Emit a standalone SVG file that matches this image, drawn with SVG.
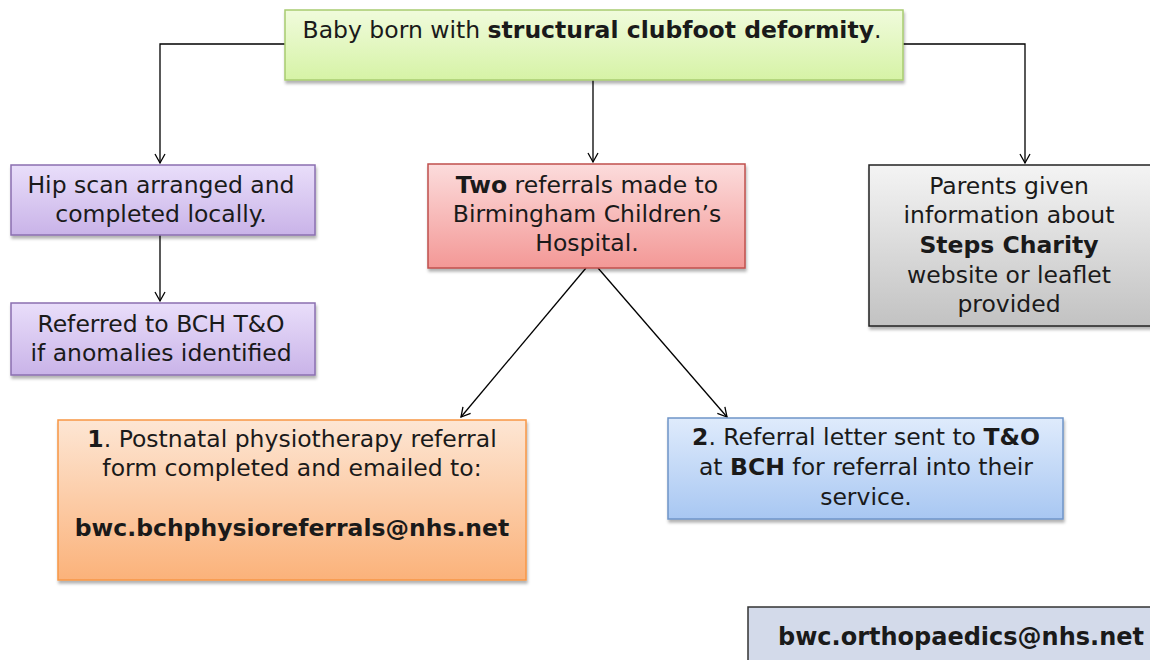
<svg xmlns="http://www.w3.org/2000/svg" width="1150" height="660" viewBox="0 0 1150 660">
<defs>
<linearGradient id="gGreen" x1="0" y1="0" x2="0" y2="1"><stop offset="0" stop-color="#f0fbdc"/><stop offset="1" stop-color="#d6f3a6"/></linearGradient>
<linearGradient id="gPurple" x1="0" y1="0" x2="0" y2="1"><stop offset="0" stop-color="#e9defa"/><stop offset="1" stop-color="#c9b3e8"/></linearGradient>
<linearGradient id="gRed" x1="0" y1="0" x2="0" y2="1"><stop offset="0" stop-color="#fcdcdc"/><stop offset="1" stop-color="#f39896"/></linearGradient>
<linearGradient id="gGrey" x1="0" y1="0" x2="0" y2="1"><stop offset="0" stop-color="#f4f4f4"/><stop offset="1" stop-color="#c2c2c2"/></linearGradient>
<linearGradient id="gOrange" x1="0" y1="0" x2="0" y2="1"><stop offset="0" stop-color="#fde6d4"/><stop offset="1" stop-color="#fbb27a"/></linearGradient>
<linearGradient id="gBlue" x1="0" y1="0" x2="0" y2="1"><stop offset="0" stop-color="#dfebfc"/><stop offset="1" stop-color="#a8c7f2"/></linearGradient>
<filter id="sh" x="-5%" y="-5%" width="110%" height="120%"><feDropShadow dx="1" dy="3" stdDeviation="1.5" flood-color="#000" flood-opacity="0.3"/></filter>
<marker id="arr" markerWidth="12" markerHeight="12" refX="10" refY="6" orient="auto" markerUnits="userSpaceOnUse"><path d="M1,1 L10,6 L1,11" fill="none" stroke="#000" stroke-width="1.3"/></marker>
<style>
text{font-family:"DejaVu Sans","Noto Sans",sans-serif;font-size:23.5px;fill:#1a1a1a;text-anchor:middle}
.b{font-weight:bold}
.box{filter:url(#sh);stroke-width:1.5}
.con{fill:none;stroke:#000;stroke-width:1.3}
</style>
</defs>
<g id="connectors">
<path class="con" d="M285,44 H160 V163" marker-end="url(#arr)"/>
<path class="con" d="M903,44 H1025 V163" marker-end="url(#arr)"/>
<path class="con" d="M593,80 V162" marker-end="url(#arr)"/>
<path class="con" d="M160,235 V301" marker-end="url(#arr)"/>
<path class="con" d="M586,268 L461,417" marker-end="url(#arr)"/>
<path class="con" d="M598,268 L727,417" marker-end="url(#arr)"/>
</g>
<g id="top">
<rect class="box" x="285" y="10" width="618" height="70" fill="url(#gGreen)" stroke="#a8cc70"/>
<text x="592" y="38">Baby born with <tspan class="b">structural clubfoot deformity</tspan>.</text>
</g>
<g id="hip">
<rect class="box" x="11" y="165" width="304" height="70" fill="url(#gPurple)" stroke="#8a6fb0"/>
<text x="161" y="193">Hip scan arranged and</text>
<text x="161" y="222">completed locally.</text>
</g>
<g id="referred">
<rect class="box" x="11" y="303" width="304" height="72" fill="url(#gPurple)" stroke="#8a6fb0"/>
<text x="161" y="332">Referred to BCH T&amp;O</text>
<text x="161" y="361">if anomalies identified</text>
</g>
<g id="two">
<rect class="box" x="428" y="164" width="317" height="104" fill="url(#gRed)" stroke="#c0504d"/>
<text x="587" y="193"><tspan class="b">Two</tspan> referrals made to</text>
<text x="587" y="222">Birmingham Children’s</text>
<text x="587" y="251">Hospital.</text>
</g>
<g id="parents">
<rect class="box" x="869" y="165" width="290" height="161" fill="url(#gGrey)" stroke="#222"/>
<text x="1009" y="194">Parents given</text>
<text x="1009" y="223">information about</text>
<text x="1009" y="253" class="b">Steps Charity</text>
<text x="1009" y="283">website or leaflet</text>
<text x="1009" y="312">provided</text>
</g>
<g id="physio">
<rect class="box" x="58" y="420" width="468" height="160" fill="url(#gOrange)" stroke="#f79646"/>
<text x="292" y="447"><tspan class="b">1</tspan>. Postnatal physiotherapy referral</text>
<text x="292" y="476">form completed and emailed to:</text>
<text x="292" y="536" class="b">bwc.bchphysioreferrals@nhs.net</text>
</g>
<g id="letter">
<rect class="box" x="668" y="418" width="395" height="101" fill="url(#gBlue)" stroke="#6f95c8"/>
<text x="866" y="445"><tspan class="b">2</tspan>. Referral letter sent to <tspan class="b">T&amp;O</tspan></text>
<text x="866" y="475">at <tspan class="b">BCH</tspan> for referral into their</text>
<text x="866" y="505">service.</text>
</g>
<g id="ortho">
<rect x="748" y="607" width="410" height="60" fill="#d3daea" stroke="#333" stroke-width="1.5"/>
<text x="961" y="645" class="b" style="font-size:24px">bwc.orthopaedics@nhs.net</text>
</g>
</svg>
